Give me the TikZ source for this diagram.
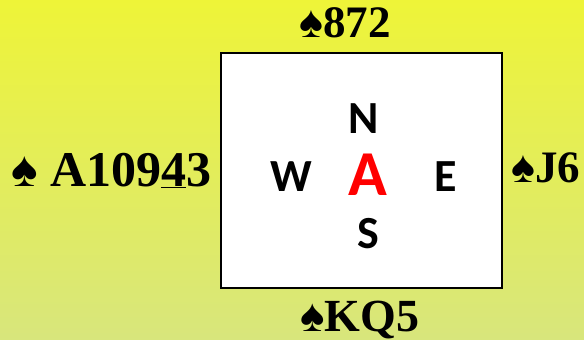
\documentclass[tikz,border=0pt]{standalone}
\usepackage{fontspec}
\setmainfont{Liberation Serif}
\newfontfamily\carlito{Carlito}
\definecolor{bgtop}{RGB}{238,244,56}
\definecolor{bgbot}{RGB}{216,230,124}
\definecolor{suitred}{RGB}{255,0,0}
\tikzset{
  hand/.style={font=\fontsize{46}{46}\selectfont\bfseries, inner sep=0pt, anchor=base west},
  dir/.style={font=\fontsize{46}{46}\selectfont\carlito\bfseries, inner sep=0pt, anchor=base},
  tablebox/.style={draw=black, line width=2.5pt, fill=white}
}
\begin{document}
\begin{tikzpicture}[x=1pt,y=-1pt]
\useasboundingbox (0,0) rectangle (584,340);
\shade[top color=bgtop, bottom color=bgbot] (0,0) rectangle (584,340);
\node[tablebox, minimum width=281pt, minimum height=235pt, inner sep=0pt] (table) at (361.5,170.5) {};
\node[dir] (n) at (364,133) {N};
\node[dir] (s) at (368,248) {S};
\node[dir] (w) at (291,191) {W};
\node[dir] (e) at (446,191) {E};
\node[dir, text=suitred, font=\fontsize{64}{64}\selectfont\carlito\bfseries] (a) at (368,195) {A};
\node[hand, font=\fontsize{45}{45}\selectfont\bfseries] (north) at (299,37) {♠872};
\node[hand, font=\fontsize{50}{50}\selectfont\bfseries] (west) at (11,186) {♠ A109\underline{4}3};
\node[hand, font=\fontsize{45}{45}\selectfont\bfseries] (east) at (511,182) {♠J6};
\node[hand] (south) at (300,331) {♠KQ5};
\end{tikzpicture}
\end{document}
